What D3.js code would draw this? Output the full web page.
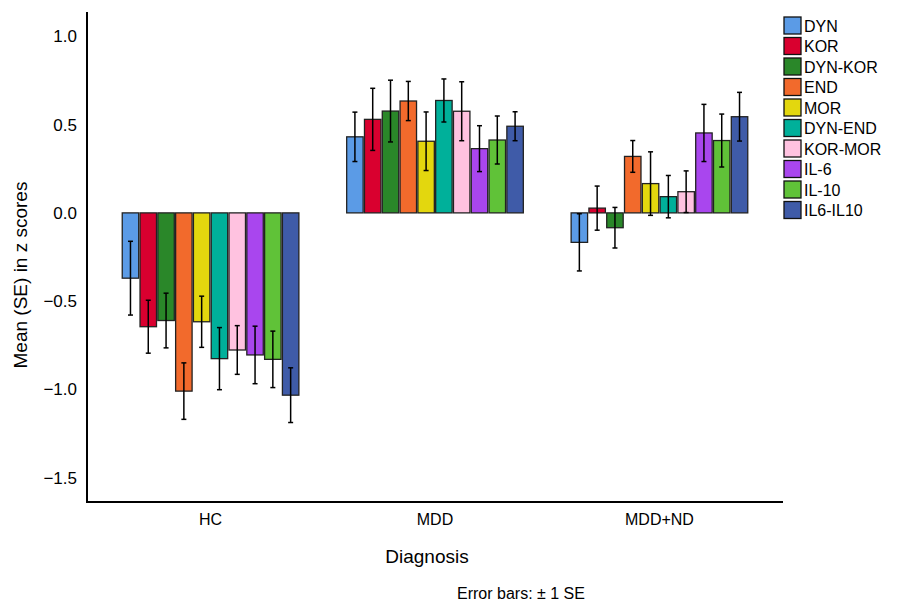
<!DOCTYPE html>
<html><head><meta charset="utf-8">
<script src="https://cdn.jsdelivr.net/npm/d3@7"></script>
<style>body{margin:0;background:#fff}svg{display:block}text{font-family:"Liberation Sans",Arial,sans-serif;fill:#000}</style>
</head><body><svg id="c" width="897" height="604"></svg>
<script>
const groups = ["HC", "MDD", "MDD+ND"];
const series = ["DYN","KOR","DYN-KOR","END","MOR","DYN-END","KOR-MOR","IL-6","IL-10","IL6-IL10"];
const colors = ["#5b9be6","#d9002f","#2a8729","#f26a2c","#e3d70e","#00b09a","#ffc2e0","#a946ee","#60c238","#3f5ba8"];
const meansHC  = [-0.37,-0.645,-0.61,-1.01,-0.617,-0.826,-0.777,-0.805,-0.83,-1.033];
const seHC     = [0.209,0.15,0.155,0.16,0.145,0.176,0.138,0.163,0.16,0.155];
const meansMDD = [0.431,0.53,0.577,0.634,0.406,0.637,0.576,0.364,0.413,0.491];
const seMDD    = [0.14,0.176,0.175,0.111,0.166,0.122,0.167,0.13,0.136,0.082];
const meansND  = [-0.167,0.027,-0.084,0.32,0.166,0.092,0.12,0.453,0.41,0.545];
const seND     = [0.162,0.125,0.115,0.09,0.18,0.12,0.118,0.162,0.15,0.138];
const yTicks = [1.0,0.5,0.0,-0.5,-1.0,-1.5];

const means = [meansHC, meansMDD, meansND];
const ses = [seHC, seMDD, seND];
const data = [];
groups.forEach((g,gi)=>series.forEach((s,si)=>data.push({g,s,si,m:means[gi][si],se:ses[gi][si]})));

const svg = d3.select("#c");
const L=87, R=783, T=12, B=502;
const y = d3.scaleLinear().domain([-1.6384,1.1384]).range([B,T]);
const x0 = d3.scaleBand().domain(groups).range([L,R]).paddingInner(0.213).paddingOuter(0.157);
const x1 = d3.scaleBand().domain(series).range([0,x0.bandwidth()]).paddingInner(0.075).paddingOuter(0);

const g = svg.append("g");
// bars
g.selectAll("rect.bar").data(data).join("rect")
  .attr("x",d=>x0(d.g)+x1(d.s))
  .attr("width",x1.bandwidth())
  .attr("y",d=>y(Math.max(0,d.m)))
  .attr("height",d=>Math.abs(y(d.m)-y(0)))
  .attr("fill",d=>colors[d.si])
  .attr("stroke","#222").attr("stroke-width",1.3);
// error bars
const eb = g.selectAll("g.eb").data(data).join("g");
const cx = d=>x0(d.g)+x1(d.s)+x1.bandwidth()/2;
eb.append("line").attr("x1",cx).attr("x2",cx).attr("y1",d=>y(d.m+d.se)).attr("y2",d=>y(d.m-d.se)).attr("stroke","#000").attr("stroke-width",1.5);
eb.append("line").attr("x1",d=>cx(d)-2.5).attr("x2",d=>cx(d)+2.5).attr("y1",d=>y(d.m+d.se)).attr("y2",d=>y(d.m+d.se)).attr("stroke","#000").attr("stroke-width",1.5);
eb.append("line").attr("x1",d=>cx(d)-2.5).attr("x2",d=>cx(d)+2.5).attr("y1",d=>y(d.m-d.se)).attr("y2",d=>y(d.m-d.se)).attr("stroke","#000").attr("stroke-width",1.5);

// axes lines
svg.append("path").attr("d",`M${L},${T}V${B}H${R}`).attr("fill","none").attr("stroke","#000").attr("stroke-width",2);

// y axis ticks (labels only)
const fmt = v => (v<0?"\u2212":"") + Math.abs(v).toFixed(1);
const yAxis = d3.axisLeft(y).tickValues(yTicks).tickFormat(fmt).tickSize(0).tickPadding(10);
const ya = svg.append("g").attr("transform",`translate(${L},0)`).call(yAxis);
ya.select(".domain").remove();
ya.selectAll("text").style("font-size","17px").style("font-family","'Liberation Sans',Arial,sans-serif").attr("fill","#000");

// x axis labels
const xAxis = d3.axisBottom(x0).tickSize(0).tickPadding(12);
const xa = svg.append("g").attr("transform",`translate(0,${B})`).call(xAxis);
xa.select(".domain").remove();
xa.selectAll("text").style("font-size","16px").style("font-family","'Liberation Sans',Arial,sans-serif").attr("fill","#000");

// axis titles
svg.append("text").attr("transform","translate(27,275) rotate(-90)").attr("text-anchor","middle").style("font-size","19px").text("Mean (SE) in z scores");
svg.append("text").attr("x",427).attr("y",563).attr("text-anchor","middle").style("font-size","19px").text("Diagnosis");
svg.append("text").attr("x",521).attr("y",599).attr("text-anchor","middle").style("font-size","16px").text("Error bars: \u00b1 1 SE");

// legend
const lg = svg.append("g").attr("transform","translate(784,17)");
const li = lg.selectAll("g").data(series).join("g").attr("transform",(d,i)=>`translate(0,${i*20.5})`);
li.append("rect").attr("width",17).attr("height",17).attr("fill",(d,i)=>colors[i]).attr("stroke","#111").attr("stroke-width",1.3);
li.append("text").attr("x",20).attr("y",14.5).style("font-size","16px").text(d=>d);
</script></body></html>
